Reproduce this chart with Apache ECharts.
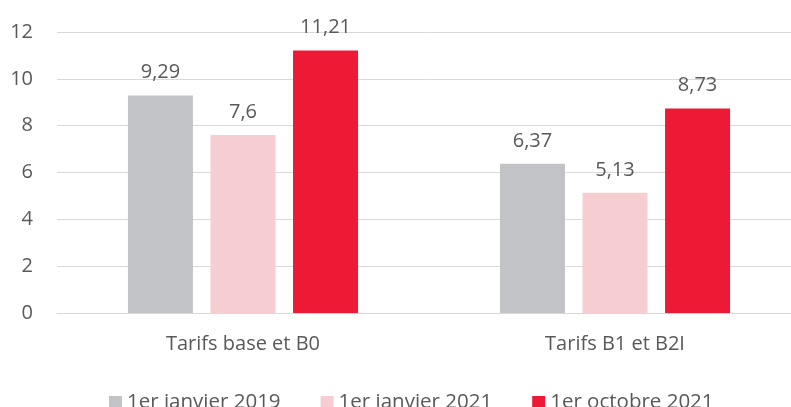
<!DOCTYPE html>
<html>
<head>
<meta charset="utf-8">
<script src="https://cdn.jsdelivr.net/npm/echarts@6/dist/echarts.min.js"></script>
<style>
  html, body { margin: 0; padding: 0; background: #fff; }
  #chart { width: 791px; height: 407px; }
</style>
</head>
<body>
<div id="chart"></div>
<script>
const categories = ['Tarifs base et B0', 'Tarifs B1 et B2I']
const seriesNames = ['1er janvier 2019', '1er janvier 2021', '1er octobre 2021']
const jan2019 = [9.29, 6.37]
const jan2021 = [7.6, 5.13]
const oct2021 = [11.21, 8.73]
const colors = ['#c2c3c6', '#f6cdd0', '#ed1a35']

const chart = echarts.init(document.getElementById('chart'))

const labelFmt = p => String(p.value).replace('.', ',')

const makeSeries = (name, data, color) => ({
  name,
  type: 'bar',
  data,
  barWidth: 65,
  barGap: '27%',
  itemStyle: { color },
  label: {
    show: true,
    position: 'top',
    distance: 13,
    formatter: labelFmt,
    color: '#595959',
    fontSize: 20,
    fontFamily: 'Open Sans'
  }
})

chart.setOption({
  animation: false,
  textStyle: { fontFamily: 'Open Sans' },
  grid: { left: 57, right: -10, top: 32, bottom: 94, outerBoundsMode: 'none' },
  legend: {
    bottom: -11,
    left: 104,
    itemWidth: 13,
    itemHeight: 13,
    itemGap: 40,
    icon: 'rect',
    textStyle: { color: '#595959', fontSize: 20.5, fontFamily: 'Open Sans' },
    data: seriesNames
  },
  xAxis: {
    type: 'category',
    data: categories,
    axisLine: { lineStyle: { color: '#d9d9d9', width: 1 } },
    axisTick: { show: false },
    axisLabel: { color: '#595959', fontSize: 20, margin: 21 }
  },
  yAxis: {
    type: 'value',
    min: 0,
    max: 12,
    interval: 2,
    splitLine: { lineStyle: { color: '#d9d9d9', width: 1 } },
    axisLabel: { color: '#595959', fontSize: 20, margin: 24 }
  },
  series: [
    makeSeries(seriesNames[0], jan2019, colors[0]),
    makeSeries(seriesNames[1], jan2021, colors[1]),
    makeSeries(seriesNames[2], oct2021, colors[2])
  ]
})
</script>
</body>
</html>
